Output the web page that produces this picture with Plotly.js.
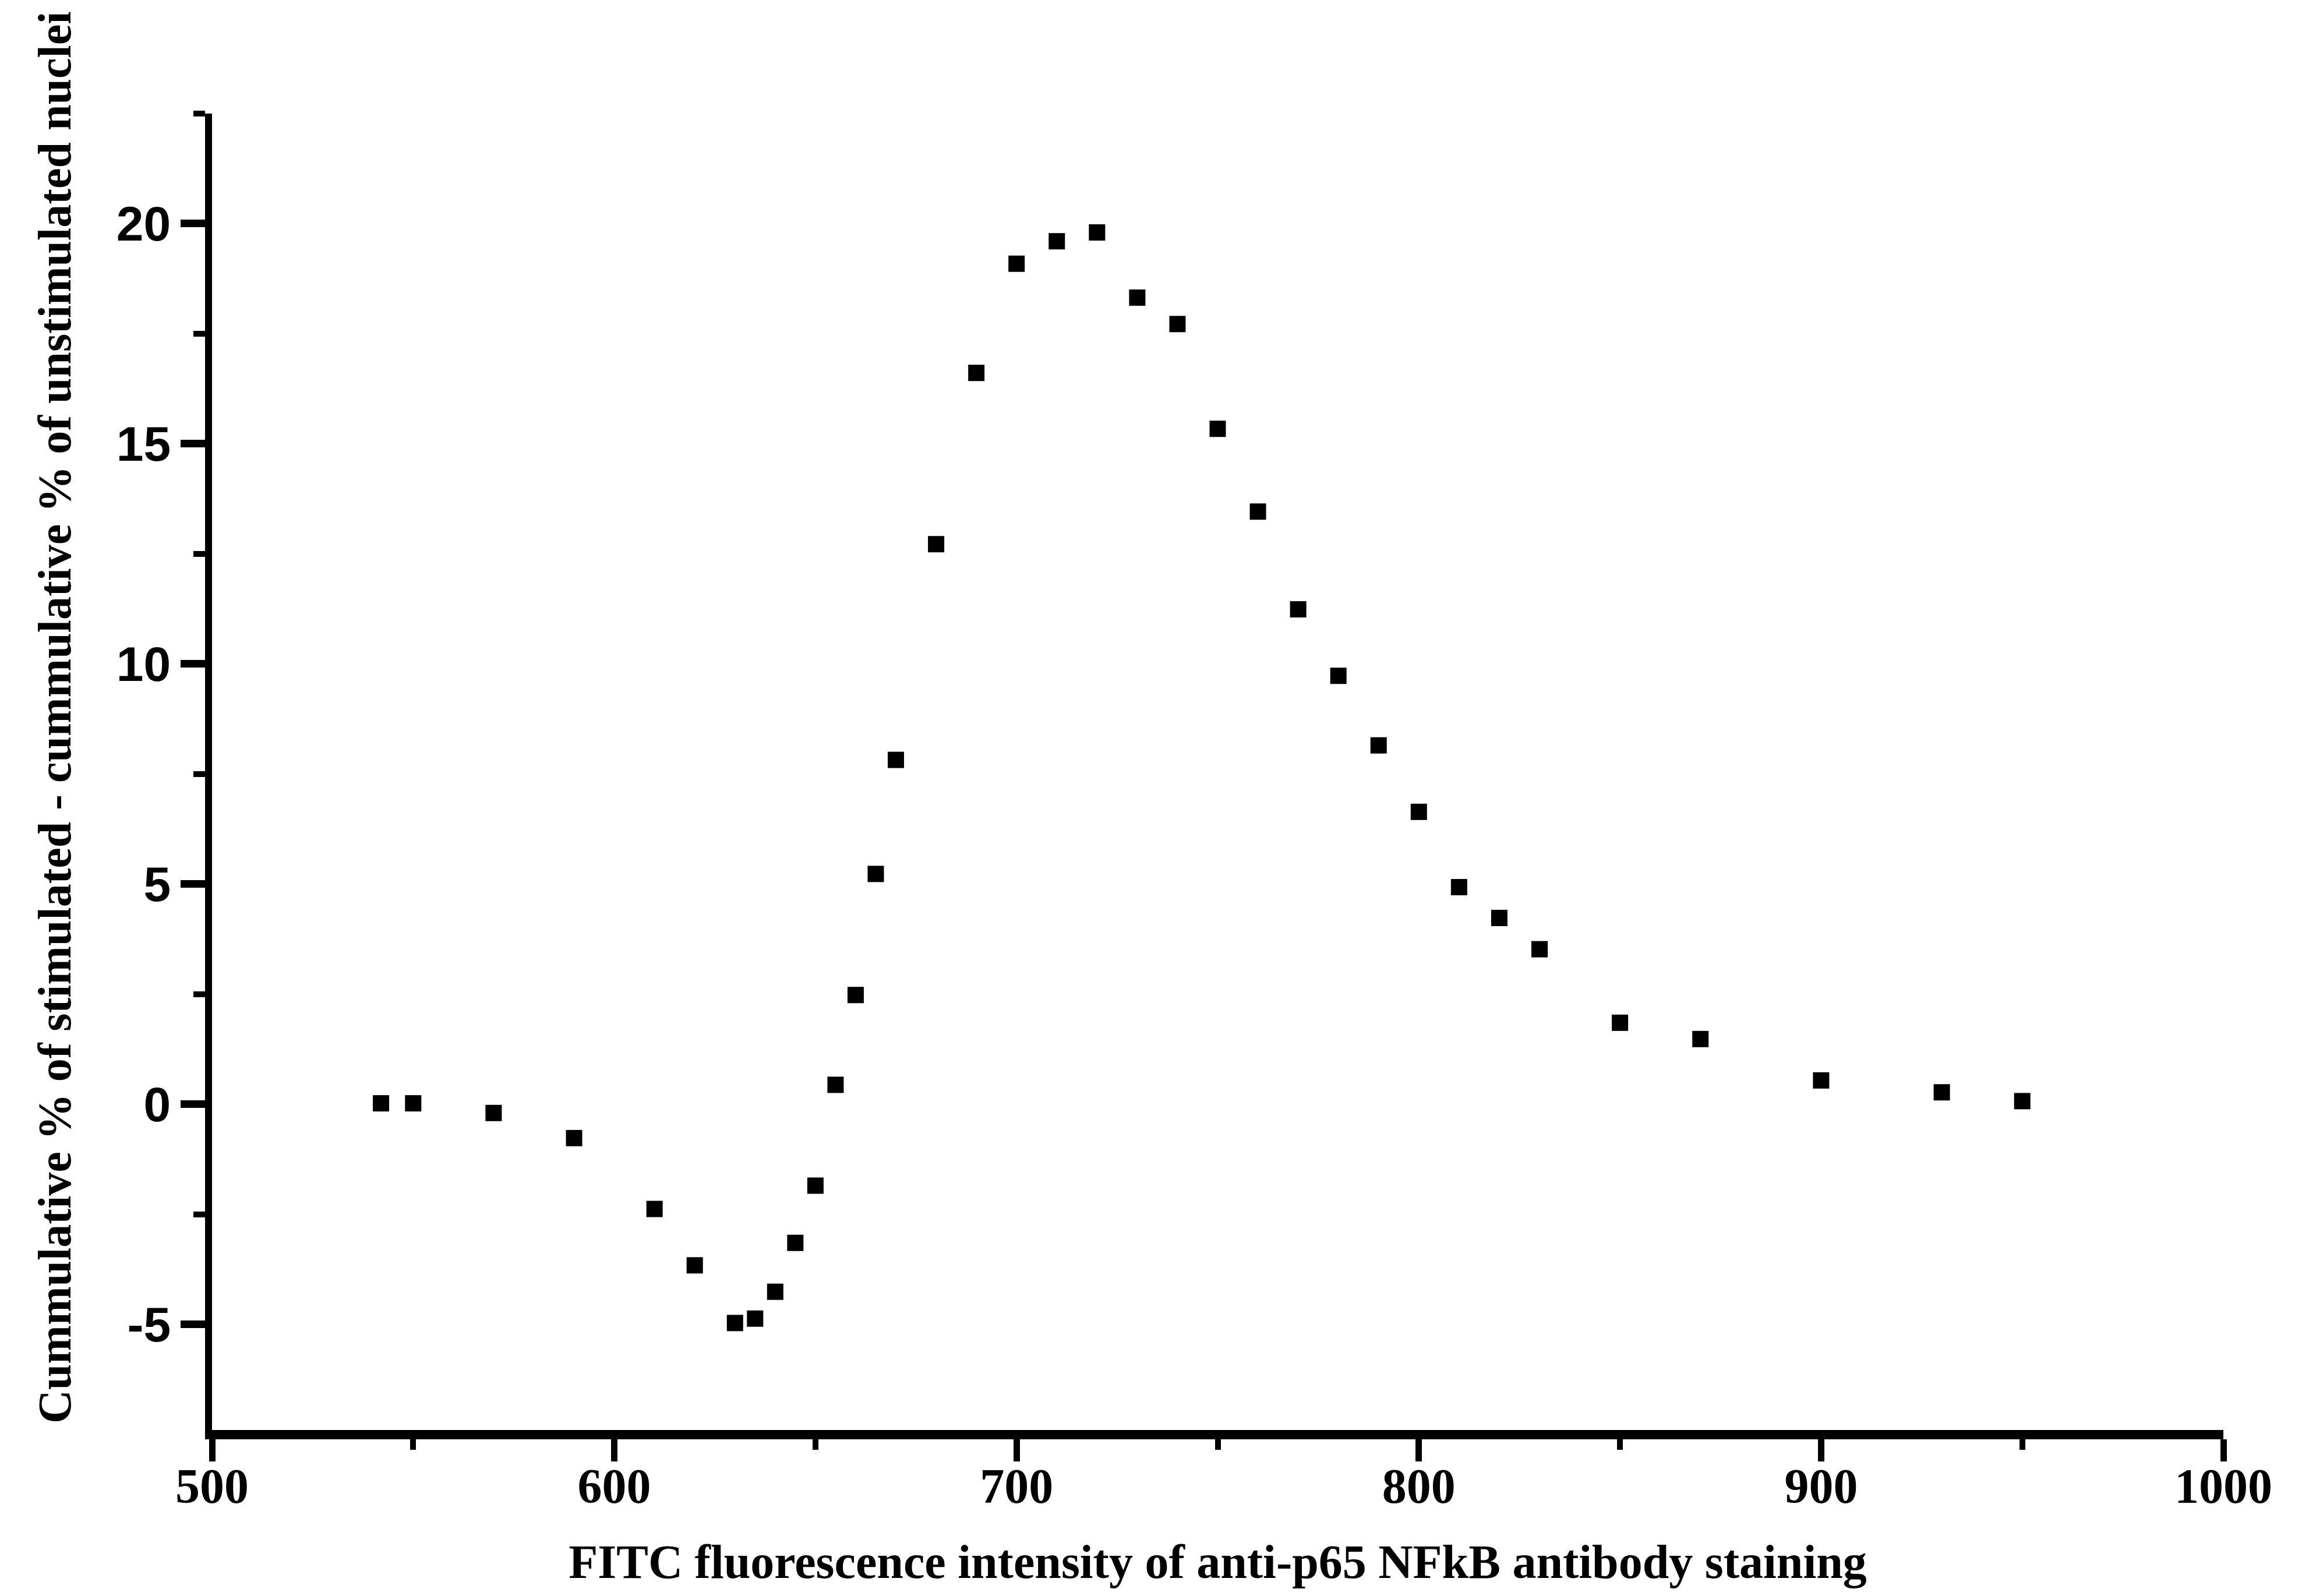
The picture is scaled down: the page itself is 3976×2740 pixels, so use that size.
<!DOCTYPE html>
<html>
<head>
<meta charset="utf-8">
<script src="https://cdn.plot.ly/plotly-3.0.1.min.js"></script>
<style>
  html, body { margin: 0; padding: 0; background: #ffffff; }
  #chart { width: 3976px; height: 2740px; }
</style>
</head>
<body>
<div id="chart"></div>
<script>
// FITC intensity bins and the difference of cumulative percentages
const intensity = [542, 550, 570, 590, 610, 620, 630, 635, 640, 645, 650, 655, 660, 665, 670,
                   680, 690, 700, 710, 720, 730, 740, 750, 760, 770, 780, 790, 800, 810, 820,
                   830, 850, 870, 900, 930, 950];
const cumulativeDiff = [0.02, 0.02, -0.2, -0.77, -2.38, -3.66, -4.97, -4.87, -4.26, -3.15, -1.85, 0.44, 2.48, 5.23, 7.82,
                        12.72, 16.61, 19.09, 19.60, 19.80, 18.32, 17.72, 15.34, 13.46, 11.24, 9.73, 8.15, 6.64, 4.93, 4.23,
                        3.52, 1.85, 1.48, 0.54, 0.27, 0.07];

const xTicks = [500, 600, 700, 800, 900, 1000];
const yTicks = [-5, 0, 5, 10, 15, 20];

const xTitle = 'FITC fluorescence intensity of anti-p65 NFkB antibody staining';
const yTitle = 'Cummulative % of stimulated - cummulative % of unstimulated nuclei';

const serif = 'Liberation Serif, Times New Roman, serif';
const sans = 'Liberation Sans, Arial, sans-serif';

const trace = {
  x: intensity,
  y: cumulativeDiff,
  type: 'scatter',
  mode: 'markers',
  marker: { symbol: 'square', size: 28, color: '#000000', line: { width: 0 } },
  hoverinfo: 'skip'
};

const layout = {
  width: 3976,
  height: 2740,
  paper_bgcolor: '#ffffff',
  plot_bgcolor: '#ffffff',
  showlegend: false,
  margin: { l: 364, r: 159, t: 195, b: 285, pad: 0 },
  xaxis: {
    range: [500, 1000],
    tickvals: xTicks,
    ticktext: xTicks.map(String),
    ticks: 'outside',
    ticklen: 38,
    tickwidth: 11,
    tickcolor: '#000000',
    ticklabelstandoff: -30,
    minor: { dtick: 50, tick0: 500, ticks: 'outside', ticklen: 18, tickwidth: 10, tickcolor: '#000000', showgrid: false },
    showline: true,
    linecolor: '#000000',
    linewidth: 16,
    showgrid: false,
    zeroline: false,
    tickfont: { family: serif, size: 84, weight: 700, color: '#000000' },
    title: {
      text: xTitle,
      font: { family: serif, size: 82, weight: 700, color: '#000000' },
      standoff: 62
    },
    automargin: false
  },
  yaxis: {
    range: [-7.4, 22.5],
    tickvals: yTicks,
    ticktext: yTicks.map(String),
    ticks: 'outside',
    ticklen: 42,
    tickwidth: 13,
    tickcolor: '#000000',
    minor: { dtick: 2.5, tick0: 0, ticks: 'outside', ticklen: 20, tickwidth: 10, tickcolor: '#000000', showgrid: false },
    showline: true,
    linecolor: '#000000',
    linewidth: 12,
    showgrid: false,
    zeroline: false,
    tickfont: { family: sans, size: 84, weight: 700, color: '#000000' },
    automargin: false
  },
  annotations: [{
    // vertical axis title, set a little above the plot's centre line
    text: yTitle,
    textangle: -90,
    xref: 'paper', yref: 'paper',
    x: -0.078, y: 0.541,
    xanchor: 'center', yanchor: 'middle',
    showarrow: false,
    font: { family: serif, size: 80, weight: 700, color: '#000000' }
  }]
};

Plotly.newPlot('chart', [trace], layout, { displayModeBar: false, staticPlot: true });
</script>
</body>
</html>
